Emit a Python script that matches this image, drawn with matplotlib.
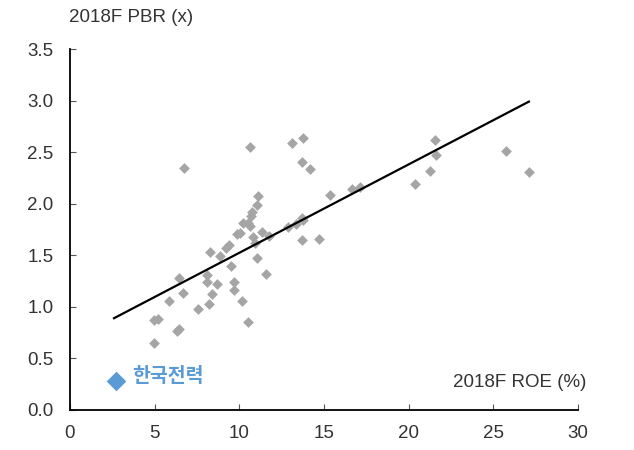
import matplotlib
matplotlib.use("Agg")
import matplotlib.pyplot as plt

plt.rcParams["font.family"] = ["Liberation Sans", "Noto Sans CJK KR", "DejaVu Sans"]

# 2018F ROE (%) vs 2018F PBR (x) for peers
roe = [6.75, 10.63, 13.11, 13.76, 13.72, 14.17, 11.10, 11.04, 10.77, 10.67,
       10.23, 10.53, 10.63, 9.84, 10.04, 10.82, 11.36, 11.77, 10.93, 9.41,
       9.21, 8.27, 8.86, 11.06, 9.51, 11.56, 6.45, 8.07, 8.07, 8.70,
       9.69, 9.69, 6.69, 8.40, 5.85, 8.19, 10.16, 7.58, 4.98, 5.21,
       6.45, 6.30, 10.53, 4.98, 12.89, 13.33, 13.72, 13.78, 13.68, 14.70,
       15.37, 16.64, 17.13, 20.37, 21.54, 21.60, 21.24, 25.77, 27.11]
pbr = [2.35, 2.55, 2.59, 2.64, 2.40, 2.34, 2.07, 1.99, 1.92, 1.88,
       1.81, 1.81, 1.78, 1.71, 1.72, 1.68, 1.73, 1.69, 1.62, 1.60,
       1.57, 1.53, 1.49, 1.47, 1.40, 1.32, 1.28, 1.31, 1.24, 1.22,
       1.24, 1.16, 1.13, 1.12, 1.06, 1.03, 1.06, 0.98, 0.87, 0.88,
       0.79, 0.77, 0.85, 0.65, 1.77, 1.80, 1.86, 1.84, 1.65, 1.66,
       2.08, 2.14, 2.16, 2.19, 2.62, 2.47, 2.32, 2.51, 2.31]

# trend line end points
trend_x = [2.6, 27.1]
trend_y = [0.89, 2.99]

# highlighted company
kepco_name = "한국전력"
kepco_roe = 2.70
kepco_pbr = 0.28

txt = "#333333"

fig = plt.figure(figsize=(6.34, 4.5), dpi=100)
ax = fig.add_axes([0.1104, 0.0889, 0.8013, 0.8022])

ax.scatter(roe, pbr, marker="D", s=30, color="#A5A5A5", linewidths=0, zorder=2)
ax.plot(trend_x, trend_y, color="black", lw=1.6, zorder=3)
ax.scatter([kepco_roe], [kepco_pbr], marker="D", s=100, color="#5B9BD5",
           linewidths=0, zorder=4)
ax.text(kepco_roe + 1.0, kepco_pbr + 0.04, kepco_name, color="#5B9BD5",
        fontsize=14, fontweight="bold", va="center", ha="left",
        family=["Noto Sans CJK KR", "DejaVu Sans"])

ax.set_xlim(0, 30)
ax.set_ylim(0, 3.5)
ax.set_xticks(range(0, 31, 5))
ax.set_yticks([i * 0.5 for i in range(8)])
ax.set_yticklabels([f"{i * 0.5:.1f}" for i in range(8)])

for s in ["top", "right"]:
    ax.spines[s].set_visible(False)
for s in ["left", "bottom"]:
    ax.spines[s].set_linewidth(1.3)
    ax.spines[s].set_color("black")

ax.tick_params(axis="both", direction="in", length=4, width=0.8,
               color="#555555", labelsize=13.5, labelcolor=txt)
ax.tick_params(axis="x", pad=11)
ax.tick_params(axis="y", pad=12)

fig.text(0.206, 0.96, "2018F PBR (x)", fontsize=13.5, ha="center", va="center",
         color=txt)
ax.text(1.016, 0.075, "2018F ROE (%)", fontsize=13.5, ha="right", va="center",
        transform=ax.transAxes, color=txt)

fig.savefig("out.png", dpi=100)
